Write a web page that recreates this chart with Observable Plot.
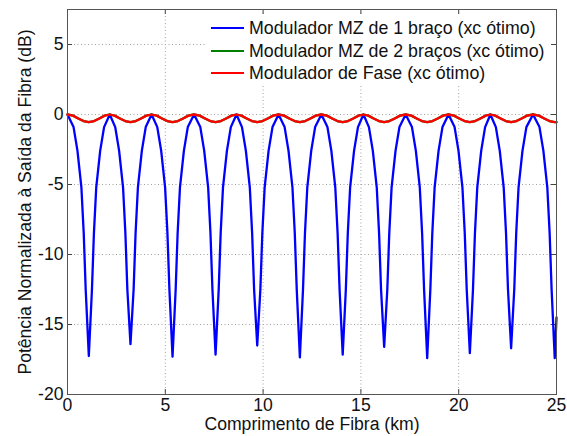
<!DOCTYPE html>
<html>
<head>
<meta charset="utf-8">
<script src="https://cdn.jsdelivr.net/npm/d3@7"></script>
<script src="https://cdn.jsdelivr.net/npm/@observablehq/plot@0.6"></script>
<style>
  html, body { margin: 0; padding: 0; background: #fff; }
  #wrap { position: relative; width: 567px; height: 436px; font-family: "Liberation Sans", Arial, sans-serif; }
  #legend { position: absolute; left: 206px; top: 15px; width: 345px; height: 70px; background: #fff; }
  .row { position: absolute; left: 0; height: 22px; display: flex; align-items: center; font-size: 17.8px; color: #111; white-space: nowrap; }
  .sw { width: 33px; height: 2.5px; margin-left: 5px; margin-right: 5px; }
</style>
</head>
<body>
<div id="wrap"></div>
<script>
// Series: x in km, y in dB
const seriesNames = ["Modulador MZ de 1 braço (xc ótimo)", "Modulador MZ de 2 braços (xc ótimo)", "Modulador de Fase (xc ótimo)"];
const seriesColors = ["#0000ff", "#008000", "#ff0000"];

const blueKm = [
  0, 0.31, 0.51, 0.71, 0.83, 0.93, 1.09, 1.25, 1.35, 1.47, 1.67, 1.87,
  2.16, 2.44, 2.64, 2.84, 2.96, 3.06, 3.22, 3.38, 3.48, 3.60, 3.80, 4.00,
  4.30, 4.59, 4.79, 4.99, 5.11, 5.21, 5.37, 5.53, 5.63, 5.75, 5.95, 6.15,
  6.47, 6.79, 6.99, 7.19, 7.31, 7.41, 7.57, 7.73, 7.83, 7.95, 8.15, 8.35,
  8.64, 8.92, 9.12, 9.32, 9.44, 9.54, 9.70, 9.86, 9.96, 10.08, 10.28, 10.48,
  10.79, 11.10, 11.30, 11.50, 11.62, 11.72, 11.88, 12.04, 12.14, 12.26, 12.46, 12.66,
  12.98, 13.29, 13.49, 13.69, 13.81, 13.91, 14.07, 14.23, 14.33, 14.45, 14.65, 14.85,
  15.13, 15.41, 15.61, 15.81, 15.93, 16.03, 16.19, 16.35, 16.45, 16.57, 16.77, 16.97,
  17.29, 17.61, 17.81, 18.01, 18.13, 18.23, 18.39, 18.55, 18.65, 18.77, 18.97, 19.17,
  19.48, 19.79, 19.99, 20.19, 20.31, 20.41, 20.57, 20.73, 20.83, 20.95, 21.15, 21.35,
  21.62, 21.90, 22.10, 22.30, 22.42, 22.52, 22.68, 22.84, 22.94, 23.06, 23.26, 23.46,
  23.80, 24.13, 24.33, 24.53, 24.65, 24.75, 24.91, 25.00
];
const blueDb = [
  0, -0.9, -2.6, -5.2, -8.5, -12.5, -17.25, -12.5, -8.5, -5.2, -2.6, -0.9,
  0, -0.9, -2.6, -5.2, -8.5, -12.5, -16.4, -12.5, -8.5, -5.2, -2.6, -0.9,
  0, -0.9, -2.6, -5.2, -8.5, -12.5, -17.3, -12.5, -8.5, -5.2, -2.6, -0.9,
  0, -0.9, -2.6, -5.2, -8.5, -12.5, -17.15, -12.5, -8.5, -5.2, -2.6, -0.9,
  0, -0.9, -2.6, -5.2, -8.5, -12.5, -16.5, -12.5, -8.5, -5.2, -2.6, -0.9,
  0, -0.9, -2.6, -5.2, -8.5, -12.5, -17.35, -12.5, -8.5, -5.2, -2.6, -0.9,
  0, -0.9, -2.6, -5.2, -8.5, -12.5, -17.15, -12.5, -8.5, -5.2, -2.6, -0.9,
  0, -0.9, -2.6, -5.2, -8.5, -12.5, -16.6, -12.5, -8.5, -5.2, -2.6, -0.9,
  0, -0.9, -2.6, -5.2, -8.5, -12.5, -17.4, -12.5, -8.5, -5.2, -2.6, -0.9,
  0, -0.9, -2.6, -5.2, -8.5, -12.5, -17.05, -12.5, -8.5, -5.2, -2.6, -0.9,
  0, -0.9, -2.6, -5.2, -8.5, -12.5, -16.7, -12.5, -8.5, -5.2, -2.6, -0.9,
  0, -0.9, -2.6, -5.2, -8.5, -12.5, -17.4, -14.5
];

const redKm = [
  0, 0.28, 0.55, 0.82, 1.09, 1.36, 1.63, 1.90,
  2.16, 2.41, 2.68, 2.95, 3.22, 3.49, 3.76, 4.03,
  4.30, 4.56, 4.83, 5.10, 5.37, 5.64, 5.91, 6.18,
  6.47, 6.76, 7.03, 7.30, 7.57, 7.84, 8.11, 8.38,
  8.64, 8.89, 9.16, 9.43, 9.70, 9.97, 10.24, 10.51,
  10.79, 11.07, 11.34, 11.61, 11.88, 12.15, 12.42, 12.69,
  12.98, 13.26, 13.53, 13.80, 14.07, 14.34, 14.61, 14.88,
  15.13, 15.38, 15.65, 15.92, 16.19, 16.46, 16.73, 17.00,
  17.29, 17.58, 17.85, 18.12, 18.39, 18.66, 18.93, 19.20,
  19.48, 19.76, 20.03, 20.30, 20.57, 20.84, 21.11, 21.38,
  21.62, 21.87, 22.14, 22.41, 22.68, 22.95, 23.22, 23.49,
  23.80, 24.10, 24.37, 24.64, 24.91, 25.00
];
const redDb = [
  0, -0.08, -0.28, -0.47, -0.55, -0.47, -0.28, -0.08,
  0, -0.08, -0.28, -0.47, -0.55, -0.47, -0.28, -0.08,
  0, -0.08, -0.28, -0.47, -0.55, -0.47, -0.28, -0.08,
  0, -0.08, -0.28, -0.47, -0.55, -0.47, -0.28, -0.08,
  0, -0.08, -0.28, -0.47, -0.55, -0.47, -0.28, -0.08,
  0, -0.08, -0.28, -0.47, -0.55, -0.47, -0.28, -0.08,
  0, -0.08, -0.28, -0.47, -0.55, -0.47, -0.28, -0.08,
  0, -0.08, -0.28, -0.47, -0.55, -0.47, -0.28, -0.08,
  0, -0.08, -0.28, -0.47, -0.55, -0.47, -0.28, -0.08,
  0, -0.08, -0.28, -0.47, -0.55, -0.47, -0.28, -0.08,
  0, -0.08, -0.28, -0.47, -0.55, -0.47, -0.28, -0.08,
  0, -0.08, -0.28, -0.47, -0.55, -0.54
];

// green series coincides with the red one (hidden beneath it)
const greenKm = redKm;
const greenDb = redDb;

const xTicks = [0, 5, 10, 15, 20, 25];
const yTicks = [-20, -15, -10, -5, 0, 5];
const xLabel = "Comprimento de Fibra (km)";
const yLabel = "Potência Normalizada à Saída da Fibra (dB)";

const toRows = (xs, ys) => xs.map((x, i) => ({x, y: ys[i]}));
const blue = toRows(blueKm, blueDb);
const green = toRows(greenKm, greenDb);
const red = toRows(redKm, redDb);

const W = 567, H = 436, mL = 67, mR = 11, mT = 9, mB = 42;
const xDom = [0, 25], yDom = [-20, 7.5];
const tickLen = 5;
const dxPerPx = (xDom[1] - xDom[0]) / (W - mL - mR);
const dyPerPx = (yDom[1] - yDom[0]) / (H - mT - mB);
const fs = 17.6;

const gridStyle = {stroke: "#a0a0a0", strokeOpacity: 1, strokeDasharray: "1,2.5", strokeWidth: 1};

const chart = Plot.plot({
  width: W, height: H,
  marginLeft: mL, marginRight: mR, marginTop: mT, marginBottom: mB,
  style: {fontFamily: "'Liberation Sans', Arial, sans-serif", fontSize: fs + "px", color: "#111", background: "#fff"},
  x: {domain: xDom, ticks: xTicks},
  y: {domain: yDom, ticks: yTicks},
  marks: [
    Plot.gridX(xTicks.filter(t => t > xDom[0] && t < xDom[1]), gridStyle),
    Plot.gridY(yTicks.filter(t => t > yDom[0] && t < yDom[1]), gridStyle),
    // inward ticks
    Plot.ruleX(xTicks, {y1: yDom[0], y2: yDom[0] + tickLen * dyPerPx, stroke: "#444"}),
    Plot.ruleX(xTicks, {y1: yDom[1], y2: yDom[1] - tickLen * dyPerPx, stroke: "#444"}),
    Plot.ruleY(yTicks, {x1: xDom[0], x2: xDom[0] + tickLen * dxPerPx, stroke: "#444"}),
    Plot.ruleY(yTicks, {x1: xDom[1], x2: xDom[1] - tickLen * dxPerPx, stroke: "#444"}),
    Plot.line(blue, {x: "x", y: "y", stroke: seriesColors[0], strokeWidth: 2.3}),
    Plot.line(green, {x: "x", y: "y", stroke: seriesColors[1], strokeWidth: 2.3}),
    Plot.line(red, {x: "x", y: "y", stroke: seriesColors[2], strokeWidth: 2.3}),
    Plot.frame({stroke: "#555", strokeWidth: 1}),
    Plot.axisX(xTicks, {tickSize: 0, tickPadding: 4, fontSize: fs, label: null, tickFormat: d => String(d)}),
    Plot.axisY(yTicks, {tickSize: 0, tickPadding: 4, fontSize: fs, label: null, tickFormat: d => String(d)}),
    Plot.text([xLabel], {frameAnchor: "bottom", dy: 35, text: d => d, fontSize: fs, lineAnchor: "bottom", textAnchor: "middle"}),
    Plot.text([yLabel], {frameAnchor: "left", dx: -37, rotate: -90, text: d => d, fontSize: fs, lineAnchor: "bottom", textAnchor: "middle"})
  ]
});

const wrap = document.getElementById("wrap");
wrap.appendChild(chart);

const legend = document.createElement("div");
legend.id = "legend";
const rowTops = [2, 25, 47];
seriesNames.forEach((name, i) => {
  const r = document.createElement("div");
  r.className = "row";
  r.style.top = rowTops[i] + "px";
  const sw = document.createElement("div");
  sw.className = "sw";
  sw.style.background = seriesColors[i];
  const t = document.createElement("span");
  t.textContent = name;
  r.appendChild(sw);
  r.appendChild(t);
  legend.appendChild(r);
});
wrap.appendChild(legend);
</script>
</body>
</html>
